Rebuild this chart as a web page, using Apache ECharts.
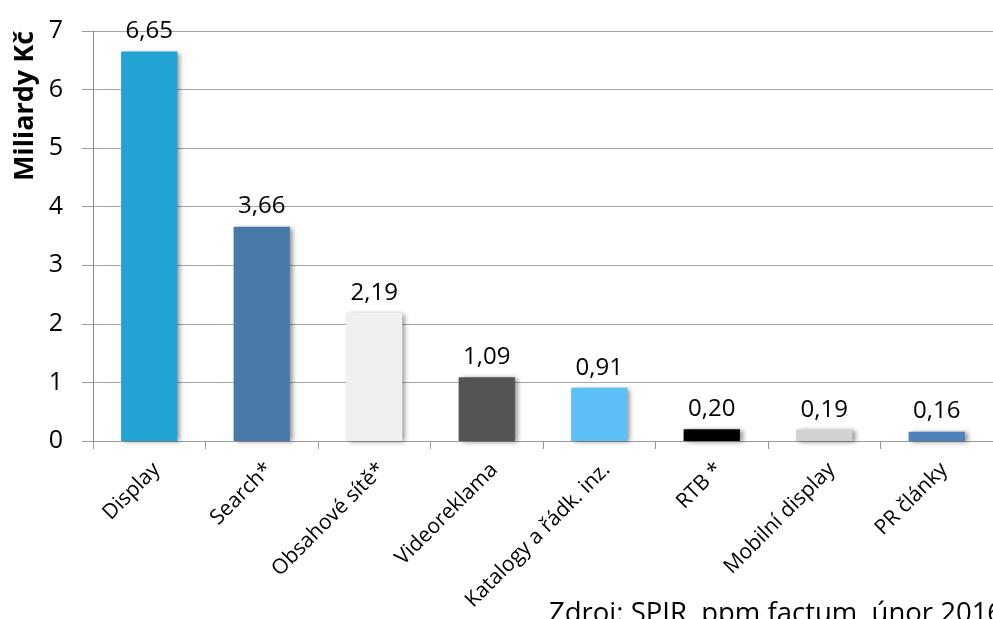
<!DOCTYPE html>
<html>
<head>
<meta charset="utf-8">
<script src="https://cdn.jsdelivr.net/npm/echarts@6/dist/echarts.min.js"></script>
<style>
  html, body { margin: 0; padding: 0; background: #fff; }
  #chart { width: 993px; height: 619px; }
</style>
</head>
<body>
<div id="chart"></div>
<script>
// Internetová reklama podle typu (mld. Kč)
const categories = ['Display', 'Search*', 'Obsahové sítě*', 'Videoreklama', 'Katalogy a řádk. inz.', 'RTB *', 'Mobilní display', 'PR články'];
const values = [6.65, 3.66, 2.19, 1.09, 0.91, 0.20, 0.19, 0.16];
const barColors = ['#21A3D3', '#4A78A8', '#F0F0F0', '#545454', '#5CC0F7', '#000000', '#D2D2D2', '#4F81BD'];
const yTicks = [0, 1, 2, 3, 4, 5, 6, 7];

const FONT = '"Open Sans", sans-serif';
const chart = echarts.init(document.getElementById('chart'), null, { renderer: 'canvas' });

chart.setOption({
  animation: false,
  backgroundColor: '#ffffff',
  grid: { left: 93, right: -10, top: 31, bottom: 178, containLabel: false },
  xAxis: {
    type: 'category',
    data: categories,
    axisLine: { show: true, lineStyle: { color: '#9A9A9A', width: 1 } },
    axisTick: { show: true, length: 8, lineStyle: { color: '#9A9A9A' } },
    axisLabel: {
      rotate: 45, interval: 0, margin: 18, verticalAlign: 'top',
      color: '#000', fontFamily: FONT, fontSize: 21
    }
  },
  yAxis: {
    type: 'value',
    min: yTicks[0], max: yTicks[yTicks.length - 1], interval: 1,
    axisLine: { show: true, lineStyle: { color: '#8C8C8C', width: 1 } },
    axisTick: { show: true, length: 11, lineStyle: { color: '#9A9A9A' } },
    splitLine: { show: true, lineStyle: { color: '#A6A6A6', width: 1 } },
    axisLabel: { margin: 30, color: '#000', fontFamily: FONT, fontSize: 25 }
  },
  series: [{
    type: 'bar',
    barWidth: '50%',
    data: values.map((v, i) => ({ value: v, itemStyle: { color: barColors[i] } })),
    itemStyle: {
      shadowColor: 'rgba(0,0,0,0.45)',
      shadowBlur: 5,
      shadowOffsetX: 3,
      shadowOffsetY: 1
    },
    label: {
      show: true, position: 'top', distance: 8,
      color: '#000', fontFamily: FONT, fontSize: 24,
      formatter: p => p.value.toFixed(2).replace('.', ',')
    }
  }],
  graphic: [
    {
      type: 'text',
      x: 25, y: 106, rotation: Math.PI / 2,
      style: {
        text: 'Miliardy Kč', fill: '#000',
        font: 'bold 27px ' + FONT,
        align: 'center', verticalAlign: 'middle'
      }
    },
    {
      type: 'text',
      left: 549, top: 600,
      style: {
        text: 'Zdroj: SPIR, ppm factum, únor 2016', fill: '#000',
        font: '27.5px ' + FONT
      }
    }
  ]
});
</script>
</body>
</html>
